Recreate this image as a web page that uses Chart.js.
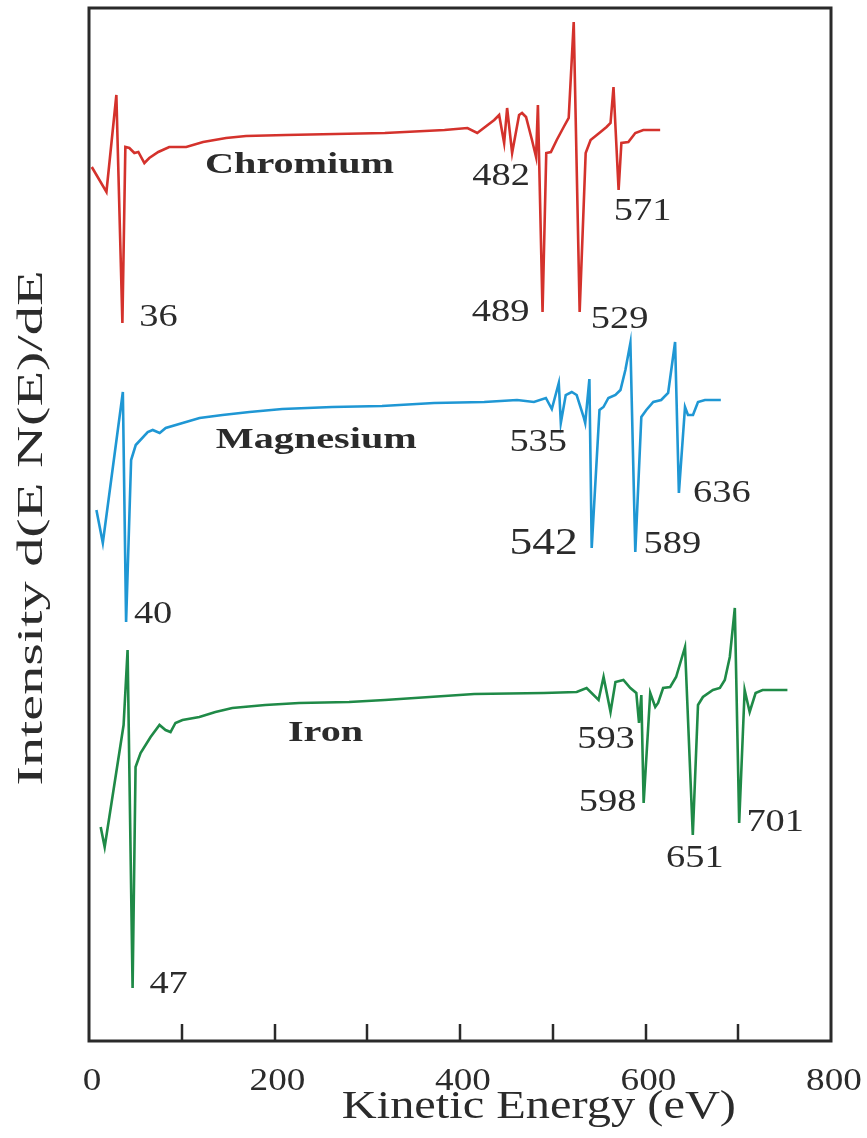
<!DOCTYPE html>
<html>
<head>
<meta charset="utf-8">
<script src="https://cdn.jsdelivr.net/npm/chart.js@4.4.1/dist/chart.umd.min.js"></script>
<style>
  html, body { margin: 0; padding: 0; background: #fff; }
  canvas { display: block; }
</style>
</head>
<body>
<canvas id="auger" width="867" height="1138"></canvas>
<script>
// Auger spectra, derivative mode d(E N(E))/dE.
// Energies in eV, signal in arbitrary units relative to each trace's flat background.

const crEnergy = [3, 18.8, 29.5, 36, 39.2, 43.5, 48.9, 53.2, 59.7, 65, 74.7, 86.5, 104.8, 123, 147.8, 169.3, 212.3, 319, 383.3, 408,
  418.6, 436.9, 442.2, 447.6, 450.8, 456.2, 463.7, 466.9, 471.2, 477.6, 482, 484, 489, 493, 498, 504.3, 511.8, 517.2, 522.6, 529,
  535.5, 540.8, 551.5, 558, 562.3, 565.5, 571, 574, 581.5, 589, 597.6, 615.8];
const crSignal = [-37, -62, 35, -193, -17, -18, -23, -22, -33, -28, -22, -17, -17, -12, -8, -6, -5, -3, 0, 2,
  -3, 10, 15, -13, 22, -23, 15, 17, 13, -10, -27, 25, -182, -23, -22, -10, 3, 12, 108, -182,
  -23, -10, -2, 3, 7, 43, -60, -13, -12, -3, 0, 0];

const mgEnergy = [8, 14.9, 36.5, 40, 45.4, 50.4, 63.3, 68.7, 76.2, 82.7, 100.9, 119.2, 143.9, 173, 208.4, 262.2, 315.9, 372, 426.1, 461.5,
  479.7, 492.6, 499, 506.5, 508.7, 514, 520.5, 525.8, 533.3, 535, 539.5, 542, 550.4, 554.7, 560, 567.6, 573, 578.3, 583.7, 589,
  595.5, 600.9, 608.4, 616.9, 624.4, 631.9, 636, 642.6, 645.8, 651.2, 656.6, 664.1, 681.2];
const mgSignal = [-108, -141, 10, -220, -58, -43, -30, -28, -31, -26, -21, -16, -13, -10, -7, -5, -4, -1, 0, 2,
  0, 4, -7, 19, -21, 7, 10, 7, -15, -21, 23, -146, -8, -5, 4, 7, 12, 32, 59, -150,
  -15, -8, 0, 2, 9, 60, -91, -5, -13, -13, 0, 2, 2];

const feEnergy = [12.6, 16.9, 37.3, 41.6, 47, 50.2, 55.6, 66.4, 76, 82.5, 87.9, 93.2, 100.8, 119, 136.3, 154.5, 190, 226.6, 280.4, 319,
  415.4, 490.4, 525.8, 536.5, 549.4, 554.8, 562.3, 567.6, 576.2, 583.7, 590.1, 593, 595.5, 598, 605.1, 610.5, 613.6, 619, 626.6, 633,
  642.6, 651, 656.6, 661.9, 672.7, 680.2, 685.5, 690.9, 696.3, 701, 706.9, 712.3, 718.7, 726.2, 753];
const feSignal = [-135, -155, -33, 42, -296, -75, -61, -45, -33, -38, -40, -31, -28, -25, -20, -16, -13, -11, -10, -8,
  -2, -1, 0, 4, -8, 15, -20, 10, 12, 4, -1, -31, -3, -111, -1, -15, -11, 4, 5, 15,
  45, -143, -13, -5, 2, 4, 12, 35, 84, -131, 2, -20, -1, 2, 2];

// labelled transitions (eV)
const crPeaks = [36, 482, 489, 529, 571];
const mgPeaks = [40, 535, 542, 589, 636];
const fePeaks = [47, 593, 598, 651, 701];

const traceNames = ['Chromium', 'Magnesium', 'Iron'];
const traceOffsets = [911, 639, 349];   // stacking of the traces on the y scale
const xTicks = [100, 200, 300, 400, 500, 600, 700];
const xTickLabels = ['0', '200', '400', '600', '800'];
const xLabelValues = [0, 200, 400, 600, 800];

// label placement, px from the dip: [dx, dy, big]
const peakLabelPos = [
  [[36, -5], [-35, 20], [-42, 1], [40, 8], [24, 22]],
  [[27, -7], [-47, 20], [-48, -4, true], [37, -7], [43, 1]],
  [[36, -3], [-33, 17], [-36, 0], [2, 24], [36, 0]]
];
// trace name placement: [eV, px below background]
const namePos = [[227, 35], [245, 38], [255, 41]];

const colors = ['#d4322c', '#1f97d4', '#1f8a47'];
const textColor = '#2b2b2b';

const series = [
  { e: crEnergy, s: crSignal, peaks: crPeaks },
  { e: mgEnergy, s: mgSignal, peaks: mgPeaks },
  { e: feEnergy, s: feSignal, peaks: fePeaks }
];

function toPoints(k) {
  const sr = series[k];
  return sr.e.map((x, i) => ({ x: x, y: traceOffsets[k] + sr.s[i] }));
}

function wideText(ctx, txt, x, y, sx, angle) {
  ctx.save();
  ctx.translate(x, y);
  if (angle) ctx.rotate(angle);
  ctx.scale(sx, 1);
  ctx.fillText(txt, 0, 0);
  ctx.restore();
}

const framePlugin = {
  id: 'frame',
  afterDraw(chart) {
    const ctx = chart.ctx;
    const a = chart.chartArea;
    const xs = chart.scales.x, ys = chart.scales.y;
    ctx.save();

    // box
    ctx.strokeStyle = '#2a2a2a';
    ctx.lineWidth = 3;
    ctx.strokeRect(a.left, a.top, a.right - a.left, a.bottom - a.top);

    // inward tick marks
    ctx.lineWidth = 2.5;
    xTicks.forEach(v => {
      const px = Math.round(xs.getPixelForValue(v));
      ctx.beginPath();
      ctx.moveTo(px, a.bottom);
      ctx.lineTo(px, a.bottom - 17);
      ctx.stroke();
    });

    ctx.fillStyle = textColor;
    ctx.textAlign = 'center';
    ctx.textBaseline = 'middle';

    // tick labels
    ctx.font = '31px "Liberation Serif", "Times New Roman", serif';
    xLabelValues.forEach((v, i) => {
      wideText(ctx, xTickLabels[i], xs.getPixelForValue(v) + 3, a.bottom + 41, 1.2);
    });

    // axis titles
    ctx.font = '40px "Liberation Serif", "Times New Roman", serif';
    wideText(ctx, 'Kinetic Energy (eV)', xs.getPixelForValue(485), a.bottom + 66, 1.21);
    ctx.font = '36px "Liberation Serif", "Times New Roman", serif';
    wideText(ctx, 'Intensity d(E N(E)/dE', 33, 528, 1.62, -Math.PI / 2);

    // trace names
    ctx.font = 'bold 30px "Liberation Serif", "Times New Roman", serif';
    traceNames.forEach((n, k) => {
      const p = namePos[k];
      wideText(ctx, n, xs.getPixelForValue(p[0]), ys.getPixelForValue(traceOffsets[k]) + p[1], 1.34);
    });

    // transition energies next to their dips
    series.forEach((sr, k) => {
      sr.peaks.forEach((e, j) => {
        const i = sr.e.indexOf(e);
        const pos = peakLabelPos[k][j];
        const px = xs.getPixelForValue(e) + pos[0];
        const py = ys.getPixelForValue(traceOffsets[k] + sr.s[i]) + pos[1];
        ctx.font = (pos[2] ? '38px' : '32px') + ' "Liberation Serif", "Times New Roman", serif';
        wideText(ctx, String(e), px, py, 1.2);
      });
    });

    ctx.restore();
  }
};

new Chart(document.getElementById('auger'), {
  type: 'line',
  data: {
    datasets: traceNames.map((n, k) => ({
      label: n,
      data: toPoints(k),
      borderColor: colors[k],
      borderWidth: 2.6,
      pointRadius: 0,
      tension: 0,
      fill: false
    }))
  },
  options: {
    responsive: false,
    animation: false,
    layout: { padding: { left: 89, right: 36, top: 8, bottom: 97 } },
    scales: {
      x: { type: 'linear', min: 0, max: 800, display: false },
      y: { type: 'linear', min: 0, max: 1033, display: false }
    },
    plugins: {
      legend: { display: false },
      tooltip: { enabled: false }
    }
  },
  plugins: [framePlugin]
});
</script>
</body>
</html>
